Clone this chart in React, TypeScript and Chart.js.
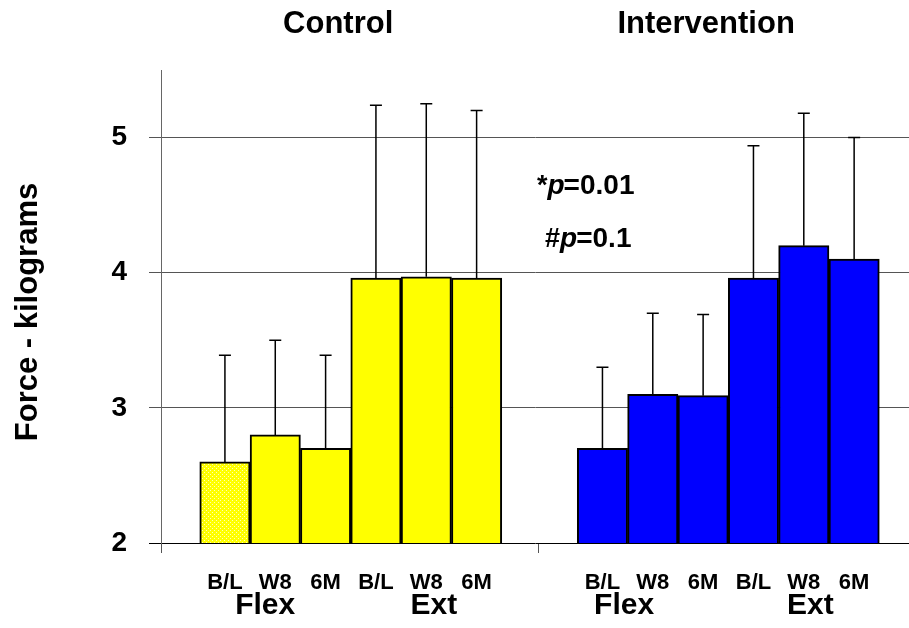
import React, { useEffect, useRef } from "react";
import { Chart, registerables } from "chart.js";

Chart.register(...registerables);

// ---- data ----
const groups = ["Control", "Intervention"];
const measures = ["Flex", "Ext"];
const timepoints = ["B/L", "W8", "6M"];
const controlMeans = [2.6, 2.8, 2.7, 3.96, 3.97, 3.96];
const controlErrors = [0.79, 0.7, 0.69, 1.28, 1.28, 1.24];
const interventionMeans = [2.7, 3.1, 3.09, 3.96, 4.2, 4.1];
const interventionErrors = [0.6, 0.6, 0.6, 0.98, 0.98, 0.9];
const yTicks = [2, 3, 4, 5];
const pNotes = [
  ["*", "p", "=0.01"],
  ["#", "p", "=0.1"],
];

const FONT = "'Liberation Sans', Arial, Helvetica, sans-serif";
const GROUP_STEP = 7.5; // bar-widths between the first bars of the two groups
const X_MIN = -1.27;
const X_MAX = 13.59;
const SEPARATOR = 6.23;
const groupColors = ["#FFFF00", "#0000FF"];

export default function App() {
  const ref = useRef<HTMLCanvasElement | null>(null);

  useEffect(() => {
    const canvas = ref.current;
    if (!canvas) return;

    const means = [...controlMeans, ...interventionMeans];
    const errors = [...controlErrors, ...interventionErrors];
    const groupData = [controlMeans, interventionMeans];
    const points: { x: number; y: number }[] = [];
    const labelsByX = new Map<number, string>();
    const colors: (string | CanvasPattern)[] = [];

    // dotted fill for the first control bar
    const pc = document.createElement("canvas");
    pc.width = 4;
    pc.height = 4;
    const pctx = pc.getContext("2d")!;
    pctx.fillStyle = "#FFFF00";
    pctx.fillRect(0, 0, 4, 4);
    pctx.fillStyle = "#FFFFB8";
    pctx.fillRect(0, 0, 1, 1);
    pctx.fillRect(2, 2, 1, 1);
    const pattern = canvas.getContext("2d")!.createPattern(pc, "repeat")!;

    groupData.forEach((vals, g) => {
      vals.forEach((v, i) => {
        const x = g * GROUP_STEP + i;
        points.push({ x, y: v });
        labelsByX.set(x, timepoints[i % timepoints.length]);
        colors.push(g === 0 && i === 0 ? pattern : groupColors[g]);
      });
    });

    const tickValues = [X_MIN, ...points.map((p) => p.x), SEPARATOR].sort((a, b) => a - b);
    const boundaryTicks = new Set([X_MIN, SEPARATOR]);

    const errorBars = {
      id: "errorBars",
      afterDatasetsDraw(chart: any) {
        const ctx = chart.ctx;
        const meta = chart.getDatasetMeta(0);
        const ys = chart.scales.y;
        ctx.save();
        ctx.strokeStyle = "#000";
        ctx.lineWidth = 1.5;
        meta.data.forEach((bar: any, i: number) => {
          const top = ys.getPixelForValue(means[i] + errors[i]);
          ctx.beginPath();
          ctx.moveTo(bar.x, bar.y);
          ctx.lineTo(bar.x, top);
          ctx.moveTo(bar.x - 6, top);
          ctx.lineTo(bar.x + 6, top);
          ctx.stroke();
        });
        ctx.restore();
      },
    };

    const annotations = {
      id: "annotations",
      afterDraw(chart: any) {
        const ctx = chart.ctx;
        const xs = chart.scales.x;
        const ys = chart.scales.y;
        ctx.save();
        ctx.fillStyle = "#000";
        ctx.textBaseline = "middle";
        ctx.textAlign = "center";

        // group titles
        ctx.font = `bold 31px ${FONT}`;
        const titleX = [2.25, 9.56];
        groups.forEach((g, i) => ctx.fillText(g, xs.getPixelForValue(titleX[i]), 24));

        // measure labels under the time points
        ctx.textBaseline = "alphabetic";
        ctx.font = `bold 30px ${FONT}`;
        const measureX = [0.8, 4.15, 7.93, 11.63];
        measureX.forEach((v, i) =>
          ctx.fillText(measures[i % measures.length], xs.getPixelForValue(v), 614)
        );

        // y axis title
        ctx.textBaseline = "middle";
        ctx.save();
        ctx.translate(28, 312);
        ctx.rotate(-Math.PI / 2);
        ctx.font = `bold 31px ${FONT}`;
        ctx.fillText("Force - kilograms", 0, 0);
        ctx.restore();

        // p-value notes
        ctx.textAlign = "left";
        ctx.textBaseline = "alphabetic";
        const noteX = [6.2, 6.36];
        const noteY = [4.58, 4.19];
        pNotes.forEach((parts, i) => {
          let x = xs.getPixelForValue(noteX[i]);
          const y = ys.getPixelForValue(noteY[i]);
          const fonts = [`bold 27px ${FONT}`, `italic bold 28px ${FONT}`, `bold 28px ${FONT}`];
          parts.forEach((t, k) => {
            ctx.font = fonts[k];
            ctx.fillText(t, x, y);
            x += ctx.measureText(t).width - (k === 1 ? 1 : 0);
          });
        });
        ctx.restore();
      },
    };

    const chart = new Chart(canvas, {
      type: "bar",
      data: {
        datasets: [
          {
            data: points,
            backgroundColor: colors as any,
            borderColor: "#000",
            borderWidth: 2,
            borderSkipped: false,
            barPercentage: 1,
            categoryPercentage: 1,
          },
        ],
      },
      options: {
        responsive: false,
        animation: false,
        events: [],
        layout: { padding: { top: 70, right: 0, left: 0, bottom: 0 } },
        plugins: {
          legend: { display: false },
          tooltip: { enabled: false },
          title: { display: false },
        },
        scales: {
          x: {
            type: "linear",
            offset: false,
            min: X_MIN,
            max: X_MAX,
            afterBuildTicks: (scale: any) => {
              scale.ticks = tickValues.map((v) => ({ value: v }));
            },
            afterFit: (scale: any) => {
              scale.height = 85;
            },
            ticks: {
              autoSkip: false,
              maxRotation: 0,
              minRotation: 0,
              padding: 17,
              color: "#000",
              font: { family: FONT, size: 22, weight: "bold" },
              callback: (value: any) => labelsByX.get(Number(value)) ?? "",
            },
            grid: {
              offset: false,
              drawOnChartArea: false,
              tickLength: 10,
              color: (ctx: any) =>
                ctx.tick && boundaryTicks.has(ctx.tick.value) ? "#555" : "rgba(0,0,0,0)",
            },
            border: { display: false },
          },
          y: {
            min: 2,
            max: 5.5,
            afterBuildTicks: (scale: any) => {
              scale.ticks = yTicks.map((v) => ({ value: v }));
            },
            afterFit: (scale: any) => {
              scale.width = 161;
            },
            ticks: {
              padding: 22,
              color: "#000",
              font: { family: FONT, size: 28, weight: "bold" },
            },
            grid: {
              tickLength: 12,
              lineWidth: 1,
              color: (ctx: any) => (ctx.tick && ctx.tick.value === 2 ? "#000" : "#555"),
            },
            border: { display: true, color: "#666", width: 1 },
          },
        },
      },
      plugins: [errorBars, annotations],
    });

    return () => chart.destroy();
  }, []);

  return (
    <div style={{ position: "fixed", left: 0, top: 0, width: 909, height: 628, background: "#fff" }}>
      <canvas ref={ref} width={909} height={628} style={{ display: "block" }} />
    </div>
  );
}
